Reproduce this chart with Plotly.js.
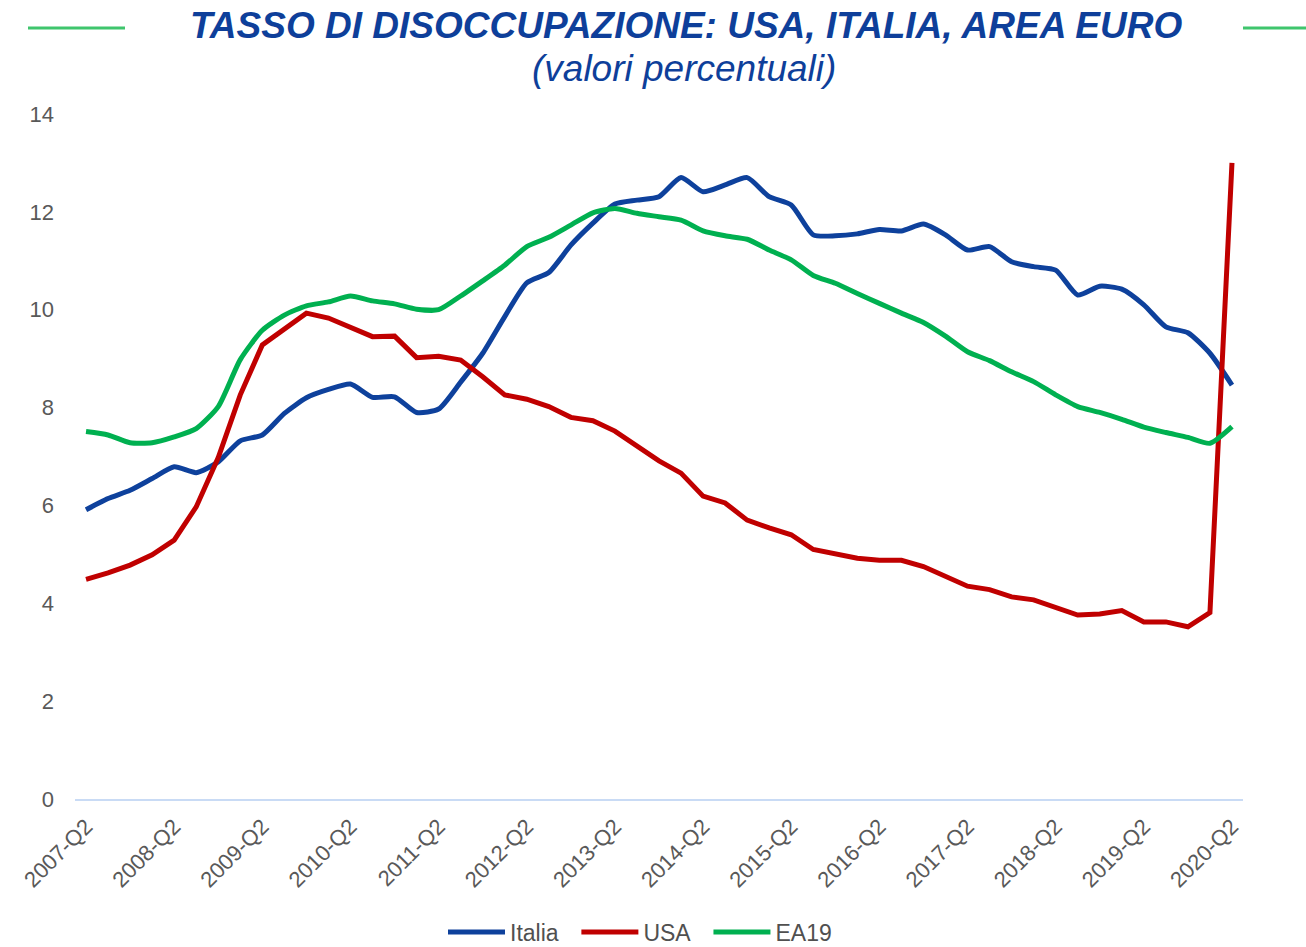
<!DOCTYPE html>
<html>
<head>
<meta charset="utf-8">
<script src="https://cdn.plot.ly/plotly-3.0.1.min.js"></script>
<style>html,body{margin:0;padding:0;background:#fff;}#chart{width:1306px;height:947px;}</style>
</head>
<body>
<div id="chart"></div>
<script>
var quarters = [
"2007-Q2","2007-Q3","2007-Q4","2008-Q1","2008-Q2","2008-Q3","2008-Q4","2009-Q1","2009-Q2","2009-Q3","2009-Q4",
"2010-Q1","2010-Q2","2010-Q3","2010-Q4","2011-Q1","2011-Q2","2011-Q3","2011-Q4","2012-Q1","2012-Q2","2012-Q3","2012-Q4",
"2013-Q1","2013-Q2","2013-Q3","2013-Q4","2014-Q1","2014-Q2","2014-Q3","2014-Q4","2015-Q1","2015-Q2","2015-Q3","2015-Q4",
"2016-Q1","2016-Q2","2016-Q3","2016-Q4","2017-Q1","2017-Q2","2017-Q3","2017-Q4","2018-Q1","2018-Q2","2018-Q3","2018-Q4",
"2019-Q1","2019-Q2","2019-Q3","2019-Q4","2020-Q1","2020-Q2"];

var tickLabels = ["2007-Q2","2008-Q2","2009-Q2","2010-Q2","2011-Q2","2012-Q2","2013-Q2","2014-Q2","2015-Q2","2016-Q2","2017-Q2","2018-Q2","2019-Q2","2020-Q2"];

var italia = [5.91,6.14,6.31,6.55,6.79,6.67,6.89,7.32,7.44,7.88,8.20,8.37,8.48,8.21,8.22,7.90,7.97,8.52,9.11,9.86,10.55,10.76,11.32,11.77,12.16,12.24,12.31,12.70,12.41,12.55,12.70,12.31,12.14,11.53,11.51,11.55,11.64,11.61,11.75,11.53,11.22,11.29,10.98,10.88,10.81,10.30,10.48,10.42,10.10,9.65,9.53,9.11,8.46];

var usa = [4.49,4.62,4.78,4.99,5.29,5.97,6.98,8.26,9.28,9.62,9.93,9.83,9.63,9.45,9.46,9.02,9.05,8.97,8.63,8.26,8.17,8.02,7.80,7.73,7.52,7.20,6.91,6.66,6.19,6.05,5.70,5.54,5.40,5.10,5.01,4.92,4.88,4.88,4.75,4.54,4.35,4.28,4.13,4.07,3.92,3.76,3.78,3.85,3.62,3.62,3.52,3.81,13.0];

var ea19 = [7.51,7.44,7.28,7.28,7.40,7.57,8.02,8.98,9.58,9.89,10.08,10.16,10.28,10.18,10.12,10.01,10.00,10.28,10.59,10.91,11.29,11.48,11.73,11.98,12.07,11.97,11.90,11.83,11.61,11.51,11.44,11.22,11.02,10.70,10.54,10.33,10.13,9.93,9.74,9.46,9.14,8.96,8.73,8.53,8.26,8.02,7.90,7.76,7.60,7.49,7.39,7.27,7.61];

var seriesNames = ["Italia", "USA", "EA19"];

var traces = [
  {x: quarters, y: italia, name: seriesNames[0] + "\u00a0\u00a0", type: "scatter", mode: "lines",
   line: {color: "#0e419c", width: 5, shape: "spline", smoothing: 0.6}},
  {x: quarters, y: usa, name: seriesNames[1] + "\u00a0\u00a0", type: "scatter", mode: "lines",
   line: {color: "#c00000", width: 5}},
  {x: quarters, y: ea19, name: seriesNames[2], type: "scatter", mode: "lines",
   line: {color: "#00b050", width: 5, shape: "spline", smoothing: 0.6}}
];

var layout = {
  width: 1306, height: 947,
  paper_bgcolor: "#ffffff", plot_bgcolor: "#ffffff",
  margin: {l: 75, r: 63, t: 114, b: 148, autoexpand: false},
  font: {family: "Liberation Sans, Arial, sans-serif", color: "#595959"},
  showlegend: true,
  legend: {orientation: "h", xanchor: "left", x: (443-75)/1168, yref: "paper", y: (799-932)/685, yanchor: "middle",
           itemwidth: 57, font: {size: 23, color: "#505050"}, traceorder: "normal"},
  xaxis: {
    type: "category", categoryorder: "array", categoryarray: quarters,
    tickmode: "array", tickvals: tickLabels, ticktext: tickLabels,
    tickangle: -45, tickfont: {size: 22, color: "#595959"}, ticklabelstandoff: 4,
    showgrid: false, zeroline: false, showline: true, linecolor: "#c9dbf5", linewidth: 2,
    ticks: "", range: [-0.5, 52.5]
  },
  yaxis: {
    range: [0, 14], tickvals: [0,2,4,6,8,10,12,14], showgrid: false, zeroline: false,
    showline: false, ticks: "", tickfont: {size: 22, color: "#595959"}, ticklabelstandoff: 20
  },
  annotations: [
    {text: "<b><i>TASSO DI DISOCCUPAZIONE: USA, ITALIA, AREA EURO</i></b>", xref: "paper", yref: "paper",
     x: (686-75)/1168, y: (799-25)/685, xanchor: "center", yanchor: "middle", showarrow: false,
     font: {size: 37, color: "#0e3f9a", family: "Liberation Sans, Arial, sans-serif"}},
    {text: "<i>(valori percentuali)</i>", xref: "paper", yref: "paper",
     x: (684-75)/1168, y: (799-68)/685, xanchor: "center", yanchor: "middle", showarrow: false,
     font: {size: 37, color: "#0e3f9a", family: "Liberation Sans, Arial, sans-serif"}}
  ],
  shapes: [
    {type: "line", xref: "paper", yref: "paper", x0: (28-75)/1168, x1: (125-75)/1168,
     y0: (799-28)/685, y1: (799-28)/685, line: {color: "#3fc56d", width: 3}},
    {type: "line", xref: "paper", yref: "paper", x0: (1243-75)/1168, x1: (1306-75)/1168,
     y0: (799-28)/685, y1: (799-28)/685, line: {color: "#3fc56d", width: 3}}
  ]
};

Plotly.newPlot("chart", traces, layout, {displayModeBar: false, staticPlot: true});
</script>
</body>
</html>
